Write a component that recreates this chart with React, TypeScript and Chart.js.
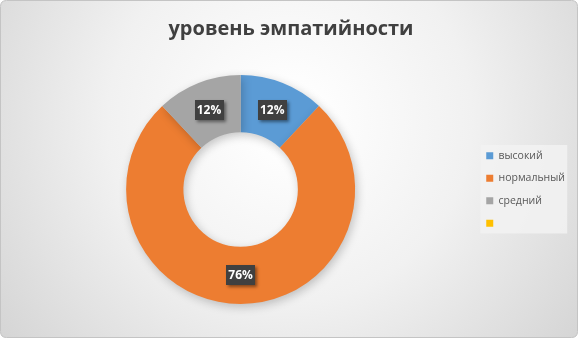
import React, { useEffect, useRef } from "react";
import { Chart, registerables } from "chart.js";

Chart.register(...registerables);

const titleText = "уровень эмпатийности";
const categories = ["высокий", "нормальный", "средний", ""];
const values = [12, 76, 12, 0];
const colors = ["#5B9BD5", "#ED7D31", "#A5A5A5", "#FFC000"];

const FONT = "'Open Sans', 'DejaVu Sans', sans-serif";

const backgroundPlugin = {
  id: "bgPanel",
  afterLayout(chart: any) {
    const lg = chart.legend;
    if (lg) {
      lg.top = 75;
      lg.height = lg.bottom - lg.top;
    }
  },
  beforeDraw(chart: any) {
    const { ctx, width, height } = chart;
    ctx.save();
    const g = ctx.createRadialGradient(290, 120, 20, 290, 120, 380);
    g.addColorStop(0, "#ffffff");
    g.addColorStop(0.45, "#f1f1f1");
    g.addColorStop(1, "#d2d2d2");
    ctx.fillStyle = g;
    ctx.beginPath();
    const r = 6;
    const x = 0.5, y = 0.5, w = width - 1, h = height - 1;
    ctx.moveTo(x + r, y);
    ctx.lineTo(x + w - r, y);
    ctx.quadraticCurveTo(x + w, y, x + w, y + r);
    ctx.lineTo(x + w, y + h - r);
    ctx.quadraticCurveTo(x + w, y + h, x + w - r, y + h);
    ctx.lineTo(x + r, y + h);
    ctx.quadraticCurveTo(x, y + h, x, y + h - r);
    ctx.lineTo(x, y + r);
    ctx.quadraticCurveTo(x, y, x + r, y);
    ctx.closePath();
    ctx.fill();
    ctx.strokeStyle = "#c4c4c4";
    ctx.lineWidth = 1;
    ctx.stroke();
    // legend panel
    const lg = chart.legend;
    if (lg && lg.legendHitBoxes && lg.legendHitBoxes.length) {
      const hb = lg.legendHitBoxes;
      const first = hb[0];
      const last = hb[hb.length - 1];
      const left = first.left - 6;
      const top = first.top - 5.5;
      const bottom = last.top + last.height + 5;
      const right = left + 87;
      ctx.fillStyle = "rgba(242,242,242,0.85)";
      ctx.fillRect(left, top, right - left, bottom - top);
    }
    ctx.restore();
  },
};

const shadowPlugin = {
  id: "arcShadow",
  beforeDatasetDraw(chart: any) {
    const ctx = chart.ctx;
    ctx.save();
    ctx.shadowColor = "rgba(0,0,0,0.22)";
    ctx.shadowBlur = 10;
    ctx.shadowOffsetX = 2;
    ctx.shadowOffsetY = 3;
  },
  afterDatasetDraw(chart: any) {
    chart.ctx.restore();
  },
};

const labelPlugin = {
  id: "pctLabels",
  afterDatasetsDraw(chart: any) {
    const { ctx } = chart;
    const meta = chart.getDatasetMeta(0);
    const data = chart.data.datasets[0].data as number[];
    const total = data.reduce((a, b) => a + b, 0);
    ctx.save();
    ctx.font = `bold 12px ${FONT}`;
    ctx.textAlign = "center";
    ctx.textBaseline = "middle";
    meta.data.forEach((el: any, i: number) => {
      const v = data[i];
      if (!v) return;
      const pos = el.tooltipPosition();
      const txt = Math.round((v / total) * 100) + "%";
      const w = 29;
      const h = 20;
      ctx.save();
      ctx.shadowColor = "rgba(0,0,0,0.45)";
      ctx.shadowBlur = 3;
      ctx.shadowOffsetX = 2;
      ctx.shadowOffsetY = 2;
      ctx.fillStyle = "#404040";
      ctx.fillRect(Math.round(pos.x - w / 2), Math.round(pos.y - h / 2), w, h);
      ctx.restore();
      ctx.fillStyle = "#ffffff";
      ctx.fillText(txt, pos.x, pos.y + 0.5);
    });
    ctx.restore();
  },
};

export default function App() {
  const ref = useRef<HTMLCanvasElement | null>(null);
  useEffect(() => {
    document.body.style.margin = "0";
    if (!ref.current) return;
    const chart = new Chart(ref.current, {
      type: "doughnut",
      data: {
        labels: categories,
        datasets: [
          {
            data: values,
            backgroundColor: colors,
            borderWidth: 0,
          },
        ],
      },
      options: {
        animation: false,
        responsive: false,
        cutout: "50%",
        layout: { padding: { left: 7, right: 3, top: 0, bottom: 34 } },
        plugins: {
          title: {
            display: true,
            text: titleText,
            color: "#404040",
            font: { family: FONT, size: 20, weight: "bold" },
            padding: { top: 17, bottom: 34 },
          },
          legend: {
            display: true,
            position: "right",
            align: "center",
            labels: {
              boxWidth: 7,
              boxHeight: 7,
              padding: 12,
              color: "#595959",
              font: { family: FONT, size: 10.5 },
            },
          },
          tooltip: { enabled: false },
        },
      },
      plugins: [backgroundPlugin, shadowPlugin, labelPlugin],
    });
    return () => chart.destroy();
  }, []);
  return <canvas ref={ref} width={578} height={338} style={{ display: "block" }} />;
}
